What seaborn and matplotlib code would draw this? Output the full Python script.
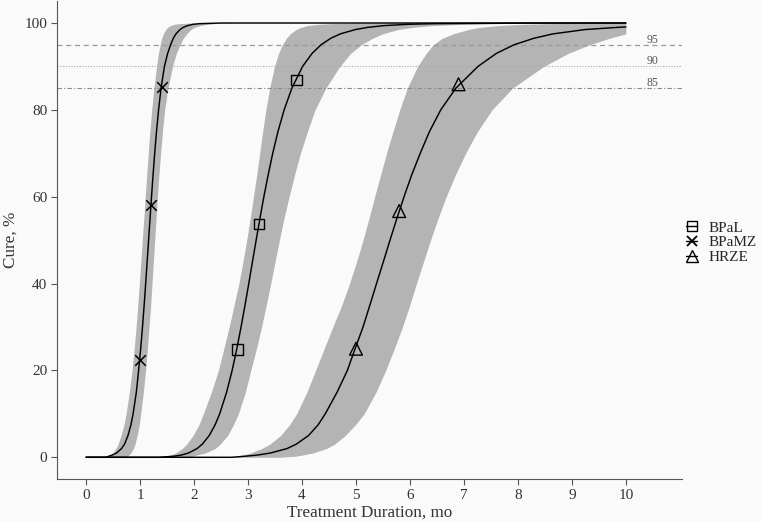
import numpy as np
import pandas as pd
import matplotlib
matplotlib.use("Agg")
import matplotlib.pyplot as plt
from matplotlib.lines import Line2D
import seaborn as sns

# ---------------- data ----------------
# Cure levels (%) at which curve / band positions (months) were read
LEVELS = [0, 0.25, 0.5, 1, 2, 3, 5, 7.5, 10, 15, 20, 25, 30, 35, 40, 45, 50, 55, 60, 65, 70, 75, 80, 85,
          90, 93, 95, 96.5, 97.5, 98.5, 99, 99.4, 99.7, 99.85, 100]

# BPaMZ
BPAMZ_BAND_LEFT = [0.40, 0.43, 0.46, 0.50, 0.55, 0.59, 0.645, 0.70, 0.74, 0.80, 0.85, 0.89, 0.925, 0.957, 0.985,
                   1.013, 1.04, 1.068, 1.095, 1.122, 1.15, 1.18, 1.215, 1.255, 1.305, 1.34, 1.37, 1.40, 1.43,
                   1.475, 1.51, 1.56, 1.63, 1.72, 1.95]
BPAMZ_BAND_RIGHT = [0.70, 0.76, 0.79, 0.83, 0.875, 0.905, 0.945, 0.985, 1.01, 1.06, 1.10, 1.135, 1.165, 1.195,
                    1.22, 1.245, 1.27, 1.295, 1.32, 1.348, 1.38, 1.414, 1.455, 1.515, 1.60, 1.67, 1.74, 1.80,
                    1.86, 1.94, 2.01, 2.10, 2.24, 2.38, 2.80]
BPAMZ_MEDIAN = [0.38, 0.42, 0.48, 0.565, 0.655, 0.71, 0.775, 0.83, 0.87, 0.93, 0.972, 1.0105, 1.044, 1.0745,
                1.103, 1.130, 1.157, 1.184, 1.211, 1.2395, 1.27, 1.3035, 1.342, 1.388, 1.45, 1.51, 1.565,
                1.615, 1.665, 1.74, 1.80, 1.88, 1.98, 2.10, 2.50]

# BPaL
BPAL_BAND_LEFT = [1.40, 1.50, 1.56, 1.66, 1.78, 1.86, 1.98, 2.09, 2.17, 2.32, 2.45, 2.55, 2.65, 2.74, 2.83,
                  2.905, 2.975, 3.04, 3.10, 3.16, 3.215, 3.27, 3.33, 3.40, 3.49, 3.565, 3.635, 3.71, 3.78,
                  3.89, 3.98, 4.10, 4.30, 4.55, 5.20]
BPAL_BAND_RIGHT = [1.90, 1.98, 2.04, 2.21, 2.39, 2.48, 2.62, 2.73, 2.82, 2.95, 3.05, 3.155, 3.25, 3.335, 3.42,
                   3.50, 3.58, 3.665, 3.76, 3.86, 3.97, 4.10, 4.24, 4.44, 4.70, 4.90, 5.10, 5.31, 5.49,
                   5.78, 6.05, 6.40, 6.95, 7.50, 9.00]
BPAL_MEDIAN = [1.35, 1.63, 1.76, 1.90, 2.054, 2.15, 2.28, 2.39, 2.474, 2.603, 2.705, 2.792, 2.87, 2.943, 3.013,
               3.081, 3.15, 3.22, 3.293, 3.372, 3.457, 3.554, 3.668, 3.812, 4.01, 4.186, 4.353, 4.535, 4.711,
               4.99, 5.22, 5.52, 5.96, 6.44, 8.50]

# HRZE
HRZE_BAND_LEFT = [2.60, 2.78, 2.90, 3.05, 3.25, 3.40, 3.60, 3.77, 3.90, 4.09, 4.25, 4.41, 4.57, 4.735, 4.88,
                  5.01, 5.13, 5.24, 5.345, 5.455, 5.565, 5.685, 5.81, 5.95, 6.14, 6.30, 6.43, 6.60, 6.80,
                  7.08, 7.30, 7.62, 8.10, 8.55, 9.50]
HRZE_BAND_RIGHT = [3.60, 3.88, 4.00, 4.20, 4.45, 4.60, 4.80, 4.99, 5.15, 5.37, 5.55, 5.71, 5.86, 5.995, 6.12,
                   6.25, 6.38, 6.52, 6.67, 6.84, 7.03, 7.25, 7.52, 7.90, 8.48, 8.93, 9.33, 9.70, 10.0,
                   10.0, 10.0, 10.0, 10.0, 10.0, 10.0]
# HRZE median does not reach 100 % by month 10
HRZE_LEVELS = [0, 0.25, 0.5, 1, 2, 3, 5, 7.5, 10, 15, 20, 25, 30, 35, 40, 45, 50, 55, 60, 65, 70, 75, 80, 85,
               90, 93, 95, 96.5, 97.5, 98.5, 99, 99.1]
HRZE_MEDIAN = [2.70, 2.95, 3.17, 3.42, 3.72, 3.89, 4.12, 4.30, 4.43, 4.65, 4.84, 4.983, 5.13, 5.256, 5.38,
               5.506, 5.63, 5.757, 5.89, 6.031, 6.19, 6.361, 6.57, 6.85, 7.26, 7.60, 7.93, 8.30, 8.65,
               9.25, 9.85, 10.0]

# Marked points on the curves
BPAL_MX = [2.8, 3.2, 3.9]
BPAL_MY = [24.8, 53.7, 86.9]
BPAMZ_MX = [1.0, 1.2, 1.4]
BPAMZ_MY = [22.3, 58.0, 85.2]
HRZE_MX = [5.0, 5.8, 6.9]
HRZE_MY = [25.0, 56.7, 85.9]

REGIMENS = ["BPaL", "BPaMZ", "HRZE"]
REF_LEVELS = [95, 90, 85]
REF_LABELS = ["95", "90", "85"]
X_START, X_END = 0, 10
X_TICKS = list(range(0, 11))
Y_TICKS = [0, 20, 40, 60, 80, 100]

# ---------------- style ----------------
sns.set_theme(style="ticks")
BG = "#fafafa"
plt.rcParams["font.family"] = ["Liberation Serif", "DejaVu Serif"]
plt.rcParams["axes.facecolor"] = BG
plt.rcParams["figure.facecolor"] = BG

fig = plt.figure(figsize=(7.61, 5.22), dpi=100)
ax = fig.add_axes([57 / 761, 1 - 479 / 522, (682 - 57) / 761, (479 - 1.3) / 522])

band_color = "#b4b4b4"
for left, right in [(BPAMZ_BAND_LEFT, BPAMZ_BAND_RIGHT),
                    (BPAL_BAND_LEFT, BPAL_BAND_RIGHT),
                    (HRZE_BAND_LEFT, HRZE_BAND_RIGHT)]:
    ax.fill_betweenx(LEVELS, left, right, color=band_color, lw=0, zorder=1)

# reference lines
ref_styles = [dict(ls=(0, (4, 3)), color="#9a9a9a", lw=0.9),
              dict(ls=(0, (1, 1.5)), color="#aaaaaa", lw=0.8),
              dict(ls=(0, (4, 2, 1, 2)), color="#8a8a8a", lw=0.8)]
for lvl, lab, st in zip(REF_LEVELS, REF_LABELS, ref_styles):
    ax.axhline(lvl, zorder=2, **st)
    ax.text(10.38, lvl + 1.2, lab, fontsize=8.5, color="#555555", ha="left", va="center", zorder=3)

# median curves: flat at 0 from month 0, rising, then flat at 100 until month 10
curves = [
    ([X_START] + BPAMZ_MEDIAN + [X_END], [0] + LEVELS + [100]),
    ([X_START] + BPAL_MEDIAN + [X_END], [0] + LEVELS + [100]),
    ([X_START] + HRZE_MEDIAN, [0] + HRZE_LEVELS),
]
for dur, cure in curves:
    sns.lineplot(x=dur, y=cure, sort=False, estimator=None, color="black", lw=1.05, ax=ax, zorder=4)

# markers
sns.scatterplot(x=BPAL_MX, y=BPAL_MY, marker="s", s=58, facecolor="none", edgecolor="black",
                linewidth=1.0, ax=ax, zorder=5)
sns.scatterplot(x=BPAMZ_MX, y=BPAMZ_MY, marker="x", s=58, color="black",
                linewidth=1.1, ax=ax, zorder=5)
sns.scatterplot(x=HRZE_MX, y=HRZE_MY, marker="^", s=85, facecolor="none", edgecolor="black",
                linewidth=1.0, ax=ax, zorder=5)

ax.set_xlim(-0.54, 11.04)
ax.set_ylim(-5, 105)
ax.set_xticks(X_TICKS)
ax.set_yticks(Y_TICKS)
ax.set_xticklabels([str(t) for t in X_TICKS])
ax.set_yticklabels([str(t) for t in Y_TICKS])
for s in ["top", "right"]:
    ax.spines[s].set_visible(False)
for s in ["left", "bottom"]:
    ax.spines[s].set_color("#555555")
    ax.spines[s].set_linewidth(0.8)
ax.tick_params(axis="both", length=4, width=0.8, color="#555555", labelsize=11, labelcolor="#333333", pad=3)
ax.set_xlabel("Treatment Duration, mo", fontsize=12.3, color="#333333", labelpad=2)
ax.set_ylabel("Cure, %", fontsize=12.3, color="#333333", labelpad=4)
ax.grid(False)

handles = [
    Line2D([0], [0], color="black", lw=1.0, marker="s", markersize=7, markerfacecolor="none", markeredgecolor="black"),
    Line2D([0], [0], color="black", lw=1.0, marker="x", markersize=7, markeredgewidth=1.3),
    Line2D([0], [0], color="black", lw=1.0, marker="^", markersize=8, markerfacecolor="none", markeredgecolor="black"),
]
fig.legend(handles, REGIMENS, loc="upper left", bbox_to_anchor=(686 / 761, 1 - 221 / 522),
           frameon=False, handlelength=0.75, handletextpad=0.75, labelspacing=0.06,
           borderpad=0, borderaxespad=0, fontsize=11)

fig.savefig("out.png", dpi=100, facecolor=BG)
